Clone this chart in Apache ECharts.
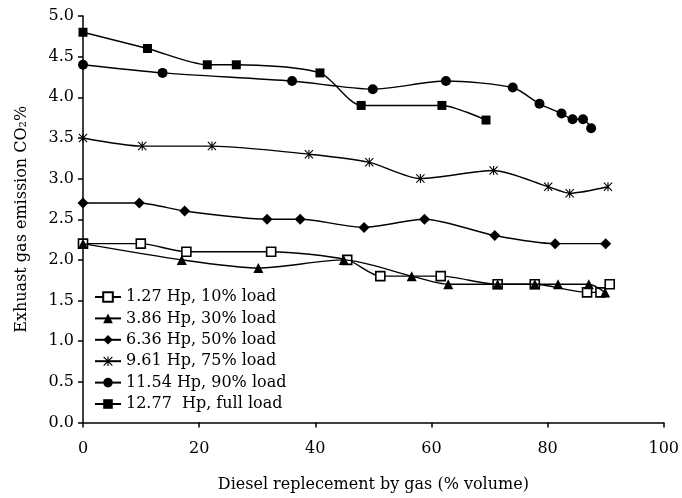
<!DOCTYPE html>
<html>
<head>
<meta charset="utf-8">
<script src="https://cdn.jsdelivr.net/npm/echarts@6/dist/echarts.min.js"></script>
<style>html,body{margin:0;padding:0;background:#fff}#c{width:682px;height:498px}</style>
</head>
<body>
<div id="c"></div>
<script>
var seriesNames = ['1.27 Hp, 10% load','3.86 Hp, 30% load','6.36 Hp, 50% load','9.61 Hp, 75% load','11.54 Hp, 90% load','12.77  Hp, full load'];
var xs1 = [0, 9.95, 17.8, 32.4, 45.5, 51.2, 61.6, 71.4, 77.8, 86.8, 89.1, 90.7];
var ys1 = [2.2, 2.2, 2.1, 2.1, 2.0, 1.8, 1.8, 1.7, 1.7, 1.6, 1.6, 1.7];
var xs2 = [0, 17.0, 30.2, 44.9, 56.6, 62.9, 71.4, 77.8, 81.8, 87.1, 89.9];
var ys2 = [2.2, 2.0, 1.9, 2.0, 1.8, 1.7, 1.7, 1.7, 1.7, 1.7, 1.6];
var xs3 = [0, 9.7, 17.5, 31.7, 37.4, 48.4, 58.8, 70.9, 81.3, 90.0];
var ys3 = [2.7, 2.7, 2.6, 2.5, 2.5, 2.4, 2.5, 2.3, 2.2, 2.2];
var xs4 = [0, 10.2, 22.2, 38.9, 49.3, 58.1, 70.7, 80.1, 83.8, 90.4];
var ys4 = [3.5, 3.4, 3.4, 3.3, 3.2, 3.0, 3.1, 2.9, 2.82, 2.9];
var xs5 = [0, 13.7, 36.0, 49.9, 62.5, 74.0, 78.6, 82.4, 84.3, 86.1, 87.5];
var ys5 = [4.4, 4.3, 4.2, 4.1, 4.2, 4.12, 3.92, 3.8, 3.73, 3.73, 3.62];
var xs6 = [0, 11.1, 21.4, 26.4, 40.8, 47.9, 61.8, 69.4];
var ys6 = [4.8, 4.6, 4.4, 4.4, 4.3, 3.9, 3.9, 3.72];
var xTicks = [0, 20, 40, 60, 80, 100];
var yTicks = [0, 0.5, 1, 1.5, 2, 2.5, 3, 3.5, 4, 4.5, 5];

var FONT = 'DejaVu Serif';
var starPath = 'path://M4.4 0L5.6 0L5.6 10L4.4 10Z M0 0.85L0.85 0L10 9.15L9.15 10Z M0.85 10L0 9.15L9.15 0L10 0.85Z';

function pairs(xs, ys){ return xs.map(function(x,i){ return [x, ys[i]]; }); }

var markers = [
  {symbol:'rect', size:9, color:'#fff', border:'#000', bw:1.6},
  {symbol:'triangle', size:10, color:'#000', border:'#000', bw:0},
  {symbol:'diamond', size:11, color:'#000', border:'#000', bw:0},
  {symbol:starPath, size:9, color:'#000', border:'#000', bw:0},
  {symbol:'circle', size:10, color:'#000', border:'#000', bw:0},
  {symbol:'rect', size:9, color:'#000', border:'#000', bw:0}
];
var allX = [xs1,xs2,xs3,xs4,xs5,xs6];
var allY = [ys1,ys2,ys3,ys4,ys5,ys6];

var series = seriesNames.map(function(n, i){
  var m = markers[i];
  return {
    name: n, type: 'line', data: pairs(allX[i], allY[i]),
    smooth: 0.25, symbol: m.symbol, symbolSize: m.size, showSymbol: true,
    lineStyle: {color:'#000', width:1.4},
    itemStyle: {color: m.color, borderColor: m.border, borderWidth: m.bw},
    z: 2 + i, animation: false
  };
});

var chart = echarts.init(document.getElementById('c'), null, {renderer:'canvas'});
chart.setOption({
  backgroundColor: '#fff',
  animation: false,
  grid: {left: 83, right: 13, top: 16, bottom: 75.5, containLabel: false},
  legend: {
    orient: 'vertical', left: 89, top: 284,
    itemWidth: 26, itemHeight: 12, itemGap: 5.4,
    textStyle: {fontFamily: FONT, fontSize: 16, color: '#000', lineHeight: 16},
    data: seriesNames
  },
  xAxis: {
    type: 'value', min: xTicks[0], max: xTicks[xTicks.length-1], interval: xTicks[1]-xTicks[0],
    name: 'Diesel replecement by gas (% volume)', nameLocation: 'middle', nameGap: 54,
    nameTextStyle: {fontFamily: FONT, fontSize: 16, color: '#000'},
    axisLine: {show: true, lineStyle: {color: '#000', width: 1.5}},
    axisTick: {show: true, inside: false, length: 5, lineStyle: {color:'#000', width: 1.5}},
    axisLabel: {fontFamily: FONT, fontSize: 16, color: '#000', margin: 18},
    splitLine: {show: false}
  },
  yAxis: {
    type: 'value', min: yTicks[0], max: yTicks[yTicks.length-1], interval: yTicks[1]-yTicks[0],
    name: 'Exhuast gas emission CO\u2082%', nameLocation: 'middle', nameGap: 53,
    nameTextStyle: {fontFamily: FONT, fontSize: 16, color: '#000'},
    axisLine: {show: true, lineStyle: {color: '#000', width: 1.5}},
    axisTick: {show: true, inside: false, length: 5, lineStyle: {color:'#000', width: 1.5}},
    axisLabel: {fontFamily: FONT, fontSize: 16, color: '#000', margin: 9,
      formatter: function(v){ return v.toFixed(1); }},
    splitLine: {show: false}
  },
  series: series
});
</script>
</body>
</html>
